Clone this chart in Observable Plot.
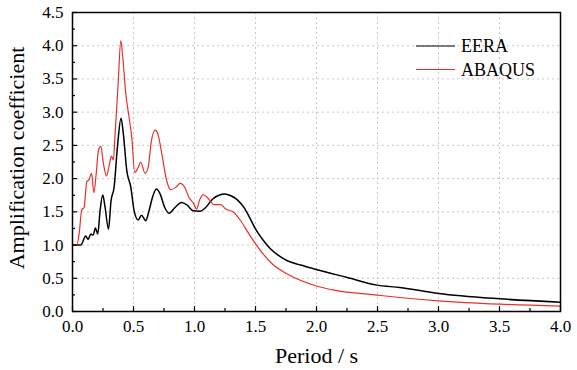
<!DOCTYPE html>
<html>
<head>
<meta charset="utf-8">
<script src="https://cdn.jsdelivr.net/npm/d3@7"></script>
<script src="https://cdn.jsdelivr.net/npm/@observablehq/plot@0.6"></script>
<style>
  html, body { margin: 0; padding: 0; background: #fff; }
  #wrap { position: relative; width: 577px; height: 370px; font-family: "Liberation Serif", "Times New Roman", serif; }
  #wrap svg text { font-family: "Liberation Serif", "Times New Roman", serif; }
  #legend { position: absolute; left: 0; top: 0; pointer-events: none; }
</style>
</head>
<body>
<div id="wrap"></div>
<script>
const seriesNames = ["EERA", "ABAQUS"];
const seriesColors = ["#000000", "#e8302a"];

const eeraX = [0,0.068,0.109,0.128,0.15,0.169,0.188,0.207,0.226,0.248,0.267,0.295,0.316,0.341,0.368,0.398,0.417,0.445,0.478,0.505,0.538,0.565,0.6,0.628,0.655,0.688,0.718,0.756,0.791,0.84,0.895,0.94,0.988,1.045,1.092,1.147,1.2,1.25,1.295,1.351,1.405,1.45,1.501,1.56,1.624,1.7,1.761,1.87,2.006,2.252,2.498,2.683,3.0,3.5,4.0];
const eeraY = [1.0,1.0,1.135,1.085,1.165,1.15,1.255,1.165,1.517,1.753,1.57,1.24,1.667,1.87,2.47,2.91,2.67,2.12,1.87,1.517,1.376,1.45,1.366,1.52,1.717,1.843,1.77,1.566,1.48,1.566,1.64,1.6,1.517,1.51,1.566,1.69,1.75,1.77,1.745,1.68,1.566,1.42,1.24,1.08,0.94,0.83,0.764,0.699,0.628,0.512,0.397,0.361,0.271,0.191,0.141];

const abaqusX = [0,0.035,0.054,0.076,0.095,0.117,0.136,0.156,0.175,0.194,0.213,0.232,0.254,0.278,0.303,0.319,0.335,0.349,0.374,0.396,0.412,0.437,0.464,0.486,0.51,0.538,0.559,0.595,0.62,0.647,0.677,0.70,0.737,0.772,0.805,0.846,0.882,0.92,0.955,0.991,1.018,1.042,1.072,1.105,1.16,1.215,1.256,1.323,1.378,1.447,1.515,1.638,1.761,1.993,2.143,2.498,2.683,3.0,3.5,4.0];
const abaqusY = [1.0,1.0,1.165,1.53,1.566,1.953,1.985,2.08,1.788,2.07,2.43,2.485,2.22,2.04,2.22,2.34,2.28,2.67,3.425,4.077,3.83,3.274,2.92,2.62,2.093,2.168,2.25,2.08,2.17,2.57,2.73,2.67,2.32,1.968,1.833,1.868,1.928,1.868,1.717,1.63,1.542,1.68,1.757,1.717,1.607,1.607,1.542,1.491,1.366,1.165,0.98,0.714,0.563,0.387,0.322,0.247,0.211,0.161,0.111,0.081];

const xMajor = [0,0.5,1.0,1.5,2.0,2.5,3.0,3.5,4.0];
const xMinor = [0.25,0.75,1.25,1.75,2.25,2.75,3.25,3.75];
const yMajor = [0,0.5,1.0,1.5,2.0,2.5,3.0,3.5,4.0,4.5];
const yMinor = [0.25,0.75,1.25,1.75,2.25,2.75,3.25,3.75,4.25];
const xTitle = "Period / s";
const yTitle = "Amplification coefficient";

const eera = eeraX.map((x, i) => ({x, y: eeraY[i]}));
const abaqus = abaqusX.map((x, i) => ({x, y: abaqusY[i]}));
const fmt = d3.format(".1f");
const font = "Liberation Serif";

const chart = Plot.plot({
  width: 577,
  height: 370,
  marginLeft: 72,
  marginRight: 17,
  marginTop: 12,
  marginBottom: 59,
  style: {fontFamily: font, fontSize: "16px", color: "#000", background: "#fff"},
  x: {domain: [0, 4], label: null},
  y: {domain: [0, 4.5], label: null},
  marks: [
    Plot.gridX(xMajor.slice(1, -1), {stroke: "#c8c8c8", strokeOpacity: 1, strokeDasharray: "2,3"}),
    Plot.gridY(yMajor.slice(1, -1), {stroke: "#c8c8c8", strokeOpacity: 1, strokeDasharray: "2,3"}),
    Plot.line(eera, {x: "x", y: "y", stroke: seriesColors[0], strokeWidth: 1.5, curve: "monotone-x"}),
    Plot.line(abaqus, {x: "x", y: "y", stroke: seriesColors[1], strokeWidth: 1.2, curve: "monotone-x"}),
    Plot.axisX(xMinor, {tickSize: -3, tickFormat: () => "", label: null, strokeWidth: 1.2}),
    Plot.axisX(xMajor, {tickSize: -5, tickPadding: 13, tickFormat: fmt, label: null, fontSize: 17, fontFamily: font, fill: "#000", strokeWidth: 1.2}),
    Plot.axisY(yMinor, {tickSize: -3, tickFormat: () => "", label: null, strokeWidth: 1.2}),
    Plot.axisY(yMajor, {tickSize: -5, tickPadding: 14, tickFormat: fmt, label: null, fontSize: 17, fontFamily: font, fill: "#000", strokeWidth: 1.2}),
    Plot.frame({stroke: "#000", strokeWidth: 1.5}),
    Plot.text([xTitle], {text: d => d, frameAnchor: "bottom", dy: 51, fontSize: 22, fontFamily: font, fill: "#000"}),
    Plot.text([yTitle], {text: d => d, frameAnchor: "left", textAnchor: "middle", dx: -56, dy: -4, rotate: -90, fontSize: 22, fontFamily: font, fill: "#000"})
  ]
});

const wrap = document.getElementById("wrap");
wrap.appendChild(chart);

// Legend overlay
const ns = "http://www.w3.org/2000/svg";
const leg = document.createElementNS(ns, "svg");
leg.setAttribute("id", "legend");
leg.setAttribute("width", 577);
leg.setAttribute("height", 370);
seriesNames.forEach((name, i) => {
  const yy = 46 + i * 23.5;
  const ln = document.createElementNS(ns, "line");
  ln.setAttribute("x1", 416); ln.setAttribute("x2", 455);
  ln.setAttribute("y1", yy); ln.setAttribute("y2", yy);
  ln.setAttribute("stroke", seriesColors[i]);
  ln.setAttribute("stroke-width", 1.2);
  leg.appendChild(ln);
  const t = document.createElementNS(ns, "text");
  t.setAttribute("x", 461); t.setAttribute("y", yy + 6);
  t.setAttribute("font-family", font);
  t.setAttribute("font-size", 18);
  t.setAttribute("fill", "#000");
  t.textContent = name;
  leg.appendChild(t);
});
wrap.appendChild(leg);
</script>
</body>
</html>
